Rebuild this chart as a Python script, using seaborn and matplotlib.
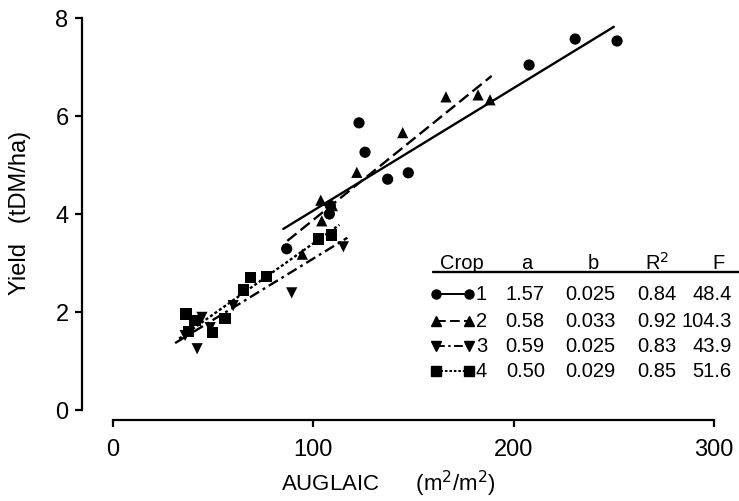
import numpy as np
import pandas as pd
import seaborn as sns
import matplotlib.pyplot as plt

# ---- data ----
crop1_x = [86.7, 108.0, 108.5, 122.8, 125.8, 137.1, 147.4, 207.7, 230.7, 251.6]
crop1_y = [3.29, 4.00, 4.17, 5.86, 5.26, 4.71, 4.84, 7.04, 7.57, 7.53]

crop2_x = [94.5, 103.7, 104.2, 109.5, 121.7, 144.6, 166.2, 182.2, 188.2]
crop2_y = [3.18, 4.28, 3.86, 4.17, 4.85, 5.66, 6.39, 6.43, 6.33]

crop3_x = [36.0, 42.0, 44.4, 48.5, 60.0, 89.2, 115.0]
crop3_y = [1.52, 1.25, 1.89, 1.68, 2.13, 2.39, 3.33]

crop4_x = [36.4, 37.5, 40.9, 49.8, 55.9, 65.3, 68.8, 76.8, 102.5, 109.2]
crop4_y = [1.96, 1.60, 1.82, 1.58, 1.86, 2.45, 2.70, 2.72, 3.49, 3.57]

crops = [1, 2, 3, 4]
coef_a = [1.57, 0.58, 0.59, 0.50]
coef_b = [0.025, 0.033, 0.025, 0.029]
r2 = [0.84, 0.92, 0.83, 0.85]
f_val = [48.4, 104.3, 43.9, 51.6]
# x extent of each fitted line
fit_lo = [85, 87, 31, 33]
fit_hi = [250, 189, 117, 113]

xticks = [0, 100, 200, 300]
yticks = [0, 2, 4, 6, 8]

# ---- build tables ----
pts = pd.concat([
    pd.DataFrame({"x": crop1_x, "y": crop1_y, "crop": 1}),
    pd.DataFrame({"x": crop2_x, "y": crop2_y, "crop": 2}),
    pd.DataFrame({"x": crop3_x, "y": crop3_y, "crop": 3}),
    pd.DataFrame({"x": crop4_x, "y": crop4_y, "crop": 4}),
], ignore_index=True)

fits = []
for c, a, b, lo, hi in zip(crops, coef_a, coef_b, fit_lo, fit_hi):
    xs = np.array([lo, hi], dtype=float)
    fits.append(pd.DataFrame({"x": xs, "y": a + b * xs, "crop": c}))
fits = pd.concat(fits, ignore_index=True)

sns.set_style("ticks")
plt.rcParams["font.family"] = ["Liberation Sans", "DejaVu Sans"]
plt.rcParams["text.color"] = "black"
plt.rcParams["axes.labelcolor"] = "black"
plt.rcParams["axes.edgecolor"] = "black"

markers = {1: "o", 2: "^", 3: "v", 4: "s"}
dashes = {1: "", 2: (5, 2.2), 3: (4.5, 1.8, 1.2, 1.8), 4: (1.3, 1.0)}

fig = plt.figure(figsize=(7.39, 5.02), dpi=100)
ax = fig.add_axes([0.1529, 0.1813, 0.8133, 0.7809])

sns.lineplot(data=fits, x="x", y="y", style="crop", dashes=dashes,
             color="black", linewidth=1.7, legend=False, ax=ax, sort=False)
sns.scatterplot(data=pts, x="x", y="y", style="crop", markers=markers,
                color="black", s=65, linewidth=0, legend=False, ax=ax,
                clip_on=False)

ax.set_xlim(0, 300)
ax.set_ylim(0, 8)
ax.set_xticks(xticks)
ax.set_yticks(yticks)
ax.tick_params(labelsize=17, width=1.6, length=5, colors="black")
ax.tick_params(axis="x", pad=8)
ax.tick_params(axis="y", pad=5)
ax.spines["left"].set_position(("outward", 22))
ax.spines["bottom"].set_position(("outward", 7))
for s in ["left", "bottom"]:
    ax.spines[s].set_linewidth(1.6)
sns.despine(ax=ax)

ax.set_xlabel("AUGLAIC      (m$^2$/m$^2$)", fontsize=16, va="bottom")
ax.set_ylabel("Yield   (tDM/ha)", fontsize=17)
ax.xaxis.set_label_coords(0.459, -0.224)
ax.yaxis.set_label_coords(-0.137, 0.505)

# ---- coefficient table ----
tsize = 14.5
hy = 0.377
ax.text(0.580, hy, "Crop", transform=ax.transAxes, ha="center", va="center", fontsize=tsize)
ax.text(0.688, hy, "a", transform=ax.transAxes, ha="center", va="center", fontsize=tsize)
ax.text(0.799, hy, "b", transform=ax.transAxes, ha="center", va="center", fontsize=tsize)
ax.text(0.905, hy, "R$^2$", transform=ax.transAxes, ha="center", va="center", fontsize=tsize)
ax.text(1.007, hy, "F", transform=ax.transAxes, ha="center", va="center", fontsize=tsize)
ax.plot([0.532, 1.042], [0.351, 0.351], transform=ax.transAxes, color="black",
        linewidth=1.7, clip_on=False)

row_y = [0.296, 0.228, 0.164, 0.100]
for c, a, b, r, f, ry in zip(crops, coef_a, coef_b, r2, f_val, row_y):
    ax.plot([0.538, 0.592], [ry, ry], transform=ax.transAxes, color="black",
            linewidth=1.4, dashes=dashes[c] if dashes[c] else (None, None),
            marker=markers[c], markersize=6.5, clip_on=False)
    ax.text(0.613, ry, str(c), transform=ax.transAxes, ha="center", va="center", fontsize=tsize)
    ax.text(0.686, ry, f"{a:.2f}", transform=ax.transAxes, ha="center", va="center", fontsize=tsize)
    ax.text(0.794, ry, f"{b:.3f}", transform=ax.transAxes, ha="center", va="center", fontsize=tsize)
    ax.text(0.905, ry, f"{r:.2f}", transform=ax.transAxes, ha="center", va="center", fontsize=tsize)
    ax.text(1.029, ry, f"{f:.1f}", transform=ax.transAxes, ha="right", va="center", fontsize=tsize)

fig.savefig("out.png", dpi=100)
